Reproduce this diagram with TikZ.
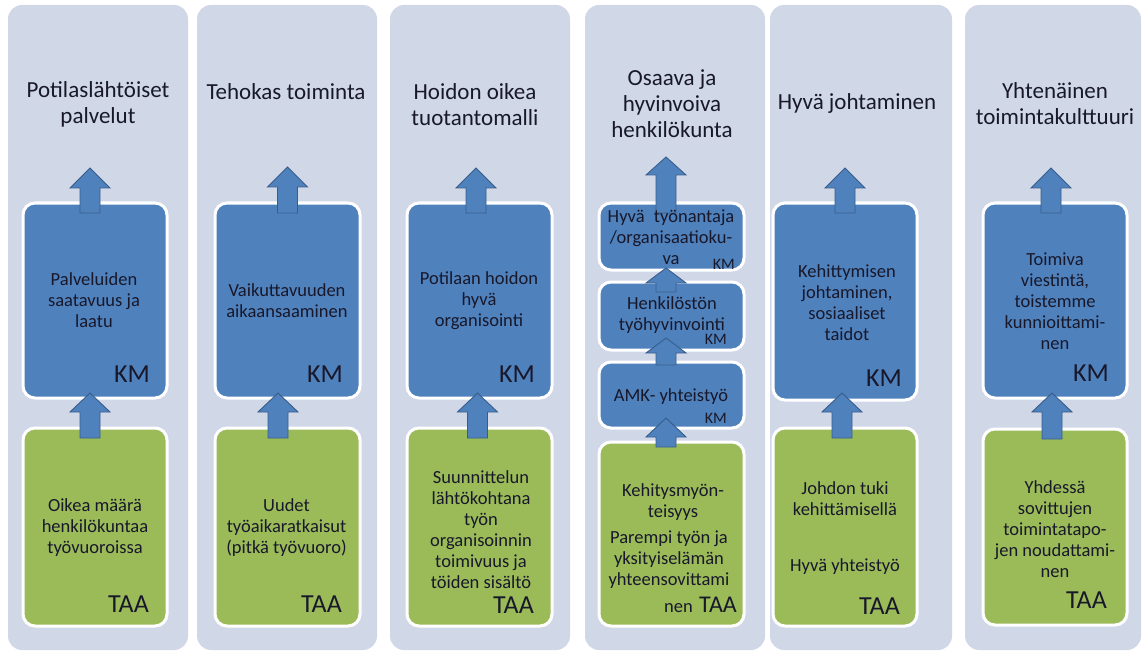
\documentclass[tikz,border=0pt]{standalone}
\usepackage{fontspec}
\setmainfont{Carlito}
\usetikzlibrary{calc}
\definecolor{colbg}{HTML}{D0D8E8}
\definecolor{kmblue}{HTML}{4F81BD}
\definecolor{taagreen}{HTML}{9BBB59}
\definecolor{arrowline}{HTML}{385D8A}
\definecolor{txt}{HTML}{18182A}
\tikzset{
  bgcol/.style={fill=colbg, draw=none, rounded corners=14pt, inner sep=0pt, outer sep=0pt},
  kmbox/.style={fill=kmblue, draw=white, line width=3pt, rounded corners=12pt, inner sep=0pt, outer sep=0pt},
  taabox/.style={kmbox, fill=taagreen},
  titletext/.style={align=center, text=txt, font=\fontsize{23}{26}\selectfont, inner sep=0pt},
  boxtext/.style={align=center, text=txt, font=\fontsize{18.5}{21}\selectfont, inner sep=0pt},
  tagtext/.style={text=txt, font=\fontsize{26}{26}\selectfont, inner sep=0pt, anchor=base east},
  smalltag/.style={tagtext, font=\fontsize{16}{16}\selectfont},
  blockarrow/.style={fill=kmblue, draw=arrowline, line width=0.9pt, line join=miter},
}
% block arrow: #1 start (bottom of shaft), #2 tip, #3 head length
\newcommand\barrow[3]{%
  \draw[blockarrow] let \p1=#1, \p2=#2 in
    (\x1-10pt,\y1) -- (\x1-10pt,\y2-#3pt) -- (\x1-20pt,\y2-#3pt) -- (\x1,\y2)
    -- (\x1+20pt,\y2-#3pt) -- (\x1+10pt,\y2-#3pt) -- (\x1+10pt,\y1) -- cycle;}
\begin{document}
\begin{tikzpicture}[x=1pt,y=-1pt]
\fill[white] (0,0) rectangle (1145,655);
\useasboundingbox (0,0) rectangle (1145,655);
% column backgrounds
\node[bgcol, minimum width=180pt, minimum height=645pt] (c1) at (98,327.5) {};
\node[bgcol, minimum width=180pt, minimum height=645pt] (c2) at (287,327.5) {};
\node[bgcol, minimum width=180pt, minimum height=645pt] (c3) at (480,327.5) {};
\node[bgcol, minimum width=180pt, minimum height=645pt] (c4) at (675,327.5) {};
\node[bgcol, minimum width=182pt, minimum height=645pt] (c5) at (861,327.5) {};
\node[bgcol, minimum width=176pt, minimum height=645pt] (c6) at (1053,327.5) {};
% boxes
\node[kmbox, minimum width=144pt, minimum height=195pt] (b1) at (95,300.5) {};
\node[taabox, minimum width=144pt, minimum height=198pt] (g1) at (95,527) {};
\node[kmbox, minimum width=145pt, minimum height=195pt] (b2) at (287.5,300.5) {};
\node[taabox, minimum width=145pt, minimum height=198pt] (g2) at (287.5,527) {};
\node[kmbox, minimum width=145pt, minimum height=195pt] (b3) at (479.5,300.5) {};
\node[taabox, minimum width=145pt, minimum height=198pt] (g3) at (479.5,527) {};
\node[kmbox, minimum width=145pt, minimum height=67pt] (b4a) at (671.5,236.5) {};
\node[kmbox, minimum width=145pt, minimum height=68pt] (b4b) at (671.5,316) {};
\node[kmbox, minimum width=145pt, minimum height=66pt] (b4c) at (671.5,395) {};
\node[taabox, minimum width=145pt, minimum height=184pt] (g4) at (671.5,534) {};
\node[kmbox, minimum width=144pt, minimum height=197pt] (b5) at (845,301.5) {};
\node[taabox, minimum width=144pt, minimum height=198pt] (g5) at (845,527) {};
\node[kmbox, minimum width=144pt, minimum height=195pt] (b6) at (1055,300.5) {};
\node[taabox, minimum width=144pt, minimum height=196pt] (g6) at (1055,527) {};
% arrows
\barrow{($(b1.north)+(-5,10)$)}{($(b1.north)+(-5,-35)$)}{20}
\barrow{($(g1.north)+(-5,10)$)}{($(b1.south)+(-5,-5)$)}{19}
\barrow{($(b2.north)+(0,10)$)}{($(b2.north)+(0,-36)$)}{20}
\barrow{($(g2.north)+(-9.5,10)$)}{($(b2.south)+(-9.5,-5)$)}{19}
\barrow{($(b3.north)+(-3.5,10)$)}{($(b3.north)+(-3.5,-35)$)}{20}
\barrow{($(g3.north)+(-2,10)$)}{($(b3.south)+(-2,-5)$)}{19}
\barrow{($(b4a.north)+(-5.5,10)$)}{($(b4a.north)+(-5.5,-46)$)}{18}
\barrow{($(b4b.north)+(-5.5,10)$)}{($(b4a.south)+(-5.5,-2)$)}{15}
\barrow{($(b4c.north)+(-5.5,3)$)}{($(b4b.south)+(-5.5,-12)$)}{15}
\barrow{($(g4.north)+(-5.5,5)$)}{($(b4c.south)+(-5.5,-10)$)}{19}
\barrow{($(b5.north)+(0,10)$)}{($(b5.north)+(0,-35)$)}{20}
\barrow{($(g5.north)+(-3,10)$)}{($(b5.south)+(-3,-7)$)}{19}
\barrow{($(b6.north)+(-4,10)$)}{($(b6.north)+(-4,-35)$)}{20}
\barrow{($(g6.north)+(-3,10)$)}{($(b6.south)+(-3,-5)$)}{19}
% titles
\node[titletext] (t1) at (98,104) {Potilaslähtöiset\\palvelut};
\node[titletext] (t2) at (286,92) {Tehokas toiminta};
\node[titletext] (t3) at (475,105) {Hoidon oikea\\tuotantomalli};
\node[titletext] (t4) at (672,104) {Osaava ja\\hyvinvoiva\\henkilökunta};
\node[titletext] (t5) at (857,103) {Hyvä johtaminen};
\node[titletext] (t6) at (1055,104) {Yhtenäinen\\toimintakulttuuri};
% box texts
\node[boxtext] (bt1) at (94,300.5) {Palveluiden\\saatavuus ja\\laatu};
\node[tagtext] (k1) at ($(b1.south east)+(-17,-16)$) {KM};
\node[boxtext] (gt1) at (95,528) {Oikea määrä\\henkilökuntaa\\työvuoroissa};
\node[tagtext] (a1) at ($(g1.south east)+(-18,-14)$) {TAA};
\node[boxtext] (bt2) at (287,300.5) {Vaikuttavuuden\\aikaansaaminen};
\node[tagtext] (k2) at ($(b2.south east)+(-17,-16)$) {KM};
\node[boxtext] (gt2) at (286.5,528) {Uudet\\työaikaratkaisut\\(pitkä työvuoro)};
\node[tagtext] (a2) at ($(g2.south east)+(-18,-14)$) {TAA};
\node[boxtext] (bt3) at (479,300.5) {Potilaan hoidon\\hyvä\\organisointi};
\node[tagtext] (k3) at ($(b3.south east)+(-17,-16)$) {KM};
\node[boxtext] (gt3) at (481,530) {Suunnittelun\\lähtökohtana\\työn\\organisoinnin\\toimivuus ja\\töiden sisältö};
\node[tagtext] (a3) at ($(g3.south east)+(-18,-13)$) {TAA};
\node[boxtext] (bt4a) at (671,237.5) {Hyvä\hspace{0.5em}työnantaja\\/organisaatioku-\\va};
\node[smalltag] (k4a) at ($(b4a.south east)+(-9,-1)$) {KM};
\node[boxtext] (bt4b) at (672,315) {Henkilöstön\\työhyvinvointi};
\node[smalltag] (k4b) at ($(b4b.south east)+(-17,-6)$) {KM};
\node[boxtext] (bt4c) at (671,397) {AMK- yhteistyö};
\node[smalltag] (k4c) at ($(b4c.south east)+(-17,-5)$) {KM};
\node[boxtext] (gt4a) at (673,502) {Kehitysmyön-\\teisyys};
\node[boxtext] (gt4b) at (669,560) {Parempi työn ja\\yksityiselämän\\yhteensovittami};
\node[boxtext, anchor=base east] (gt4c) at (737,612) {nen\hspace{0.35em}{\fontsize{24}{24}\selectfont TAA}};
\node[boxtext] (bt5) at (847,302.5) {Kehittymisen\\johtaminen,\\sosiaaliset\\taidot};
\node[tagtext] (k5) at ($(b5.south east)+(-15,-14)$) {KM};
\node[boxtext] (gt5a) at (845,498.5) {Johdon tuki\\kehittämisellä};
\node[boxtext] (gt5b) at (845,567) {Hyvä yhteistyö};
\node[tagtext] (a5) at ($(g5.south east)+(-17,-12)$) {TAA};
\node[boxtext] (bt6) at (1055,301.5) {Toimiva\\viestintä,\\toistemme\\kunnioittami-\\nen};
\node[tagtext] (k6) at ($(b6.south east)+(-18,-17)$) {KM};
\node[boxtext] (gt6) at (1055,529) {Yhdessä\\sovittujen\\toimintatapo-\\jen noudattami-\\nen};
\node[tagtext] (a6) at ($(g6.south east)+(-20,-17)$) {TAA};
\end{tikzpicture}
\end{document}
